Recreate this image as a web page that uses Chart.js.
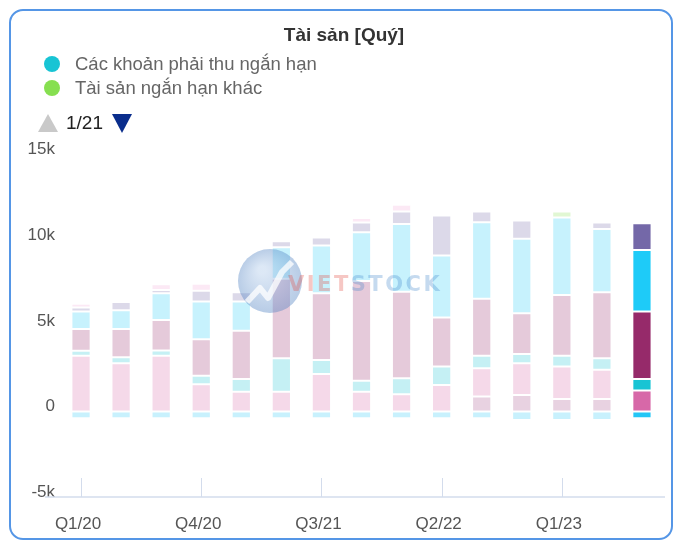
<!DOCTYPE html>
<html>
<head>
<meta charset="utf-8">
<script src="https://cdn.jsdelivr.net/npm/chart.js@4.4.1/dist/chart.umd.min.js"></script>
<style>
  html, body { margin: 0; padding: 0; background: #fff; }
  body { width: 674px; height: 540px; position: relative; overflow: hidden; font-family: "Liberation Sans", Arial, sans-serif; }
  #card { position: absolute; left: 9px; top: 9px; width: 660px; height: 527px; border: 2px solid #5596e6; border-radius: 14px; }
  #c { position: absolute; left: 0; top: 0; }
  #legend { position: absolute; left: 44px; top: 52px; }
  .item { display: flex; align-items: center; height: 24px; color: #666; font-size: 18.5px; white-space: nowrap; }
  .dot { width: 16px; height: 16px; border-radius: 50%; margin-right: 15px; }
  #pager { position: absolute; left: 38px; top: 112px; display: flex; align-items: center; height: 22px; }
  .up { width: 0; height: 0; border-left: 10px solid transparent; border-right: 10px solid transparent; border-bottom: 18px solid #c9c9c9; }
  .down { width: 0; height: 0; border-left: 10px solid transparent; border-right: 10px solid transparent; border-top: 19px solid #0a2d8c; }
  #page { font-size: 19px; color: #222; margin: 0 9px 0 8px; }
</style>
</head>
<body>
<div id="card"></div>
<canvas id="c" width="674" height="540"></canvas>
<div id="legend"></div>
<div id="pager"><div class="up"></div><span id="page">1/21</span><div class="down"></div></div>
<script>
const quarters = ['Q1/20', 'Q2/20', 'Q3/20', 'Q4/20', 'Q1/21', 'Q2/21', 'Q3/21', 'Q4/21',
  'Q1/22', 'Q2/22', 'Q3/22', 'Q4/22', 'Q1/23', 'Q2/23', 'Q3/23'];

// stacked from the bottom up
const cashEq = [0, 0, 0, 0, 0, 0, 0, 0, 0, 0, 870, 960, 730, 730, 0];
const shortInvest = [3250, 2820, 3250, 1590, 1150, 1150, 2190, 1150, 1000, 1550, 1660, 1860, 1890, 1700, 1220];
const receivables = [300, 350, 310, 490, 750, 1960, 820, 650, 940, 1070, 720, 540, 630, 680, 680];
const inventory = [1270, 1650, 1790, 2140, 2820, 4640, 3900, 5830, 5060, 2870, 3330, 2380, 3560, 3860, 3940];
const fixedAssets = [1020, 1100, 1560, 2200, 1700, 1840, 2790, 2850, 3950, 3620, 4480, 4350, 4520, 3700, 3600];
const longInvest = [230, 470, 190, 640, 550, 360, 460, 560, 730, 2340, 620, 1070, 0, 370, 1560];
const otherLong = [230, 0, 340, 400, 0, 0, 0, 260, 400, 0, 0, 0, 0, 0, 0];
const otherShort = [0, 0, 0, 0, 0, 0, 0, 0, 0, 0, 0, 0, 350, 0, 0];
const provisions = [-400, -400, -400, -400, -400, -400, -400, -400, -400, -400, -400, -500, -500, -500, -400];

const yTicks = [-5000, 0, 5000, 10000, 15000];

const series = [
  { label: 'Tiền và tương đương tiền', data: cashEq, color: '#a24a86' },
  { label: 'Đầu tư tài chính ngắn hạn', data: shortInvest, color: '#d768a8' },
  { label: 'Các khoản phải thu ngắn hạn', data: receivables, color: '#18c4d4' },
  { label: 'Hàng tồn kho', data: inventory, color: '#962a6a' },
  { label: 'Tài sản cố định', data: fixedAssets, color: '#1ecbf8' },
  { label: 'Đầu tư tài chính dài hạn', data: longInvest, color: '#7468a8' },
  { label: 'Tài sản dài hạn khác', data: otherLong, color: '#f4a6d8' },
  { label: 'Tài sản ngắn hạn khác', data: otherShort, color: '#86df50' },
  { label: 'Dự phòng', data: provisions, color: '#24c6f6' }
];

const legendPage = ['Các khoản phải thu ngắn hạn', 'Tài sản ngắn hạn khác'];

function fade(hex, a) {
  const r = parseInt(hex.slice(1, 3), 16);
  const g = parseInt(hex.slice(3, 5), 16);
  const b = parseInt(hex.slice(5, 7), 16);
  return `rgba(${r},${g},${b},${a})`;
}

// last quarter is highlighted, the rest are faded out
function barColors(hex) {
  return quarters.map((q, i) => i === quarters.length - 1 ? hex : fade(hex, 0.25));
}

const legendEl = document.getElementById('legend');
legendPage.forEach(name => {
  const s = series.find(x => x.label === name);
  const row = document.createElement('div');
  row.className = 'item';
  row.innerHTML = `<span class="dot" style="background:${s.color}"></span><span>${s.label}</span>`;
  legendEl.appendChild(row);
});

const innerTicks = {
  id: 'innerTicks',
  afterDraw(chart) {
    const x = chart.scales.x;
    const area = chart.chartArea;
    const ctx = chart.ctx;
    ctx.save();
    ctx.strokeStyle = '#d3dcec';
    ctx.lineWidth = 1.5;
    ctx.beginPath();
    ctx.moveTo(area.left - 16, area.bottom);
    ctx.lineTo(area.right + 3, area.bottom);
    ctx.stroke();
    ctx.lineWidth = 1;
    quarters.forEach((q, i) => {
      if (i % 3) return;
      const px = Math.round(x.getPixelForValue(i)) + 0.5;
      ctx.beginPath();
      ctx.moveTo(px, area.bottom - 19);
      ctx.lineTo(px, area.bottom);
      ctx.stroke();
    });
    ctx.restore();
  }
};

const watermark = {
  id: 'watermark',
  afterDatasetsDraw(chart) {
    const ctx = chart.ctx;
    ctx.save();
    ctx.globalAlpha = 0.4;
    const g = ctx.createRadialGradient(262, 270, 4, 270, 281, 33);
    g.addColorStop(0, '#a9c6e8');
    g.addColorStop(1, '#4a7dbf');
    ctx.fillStyle = g;
    ctx.beginPath();
    ctx.arc(270, 281, 32, 0, Math.PI * 2);
    ctx.fill();
    ctx.globalAlpha = 0.75;
    ctx.strokeStyle = '#fff';
    ctx.lineWidth = 6;
    ctx.lineJoin = 'round';
    ctx.beginPath();
    ctx.moveTo(247, 302);
    ctx.lineTo(260, 288);
    ctx.lineTo(268, 298);
    ctx.lineTo(282, 272);
    ctx.lineTo(292, 262);
    ctx.stroke();
    ctx.globalAlpha = 0.3;
    ctx.font = 'bold 21px "DejaVu Sans"';
    ctx.letterSpacing = '2.5px';
    ctx.textBaseline = 'alphabetic';
    ctx.fillStyle = '#e2453d';
    ctx.fillText('VIET', 288, 291);
    const w = ctx.measureText('VIET').width;
    ctx.fillStyle = '#3f83c9';
    ctx.fillText('STOCK', 288 + w, 291);
    ctx.restore();
  }
};

new Chart(document.getElementById('c'), {
  type: 'bar',
  data: {
    labels: quarters,
    datasets: series.map(s => ({
      label: s.label,
      data: s.data,
      backgroundColor: barColors(s.color),
      borderColor: '#ffffff',
      borderWidth: 1,
      borderSkipped: false,
      barPercentage: 0.48,
      categoryPercentage: 1
    }))
  },
  options: {
    responsive: false,
    animation: false,
    devicePixelRatio: 1,
    layout: { padding: { left: 26, right: 12, top: 0, bottom: 0 } },
    plugins: {
      legend: { display: false },
      tooltip: { enabled: false },
      title: {
        display: true,
        text: 'Tài sản [Quý]',
        color: '#333',
        font: { family: '"Liberation Sans", Arial, sans-serif', size: 19, weight: 'bold' },
        padding: { top: 24, bottom: 108 }
      }
    },
    scales: {
      x: {
        stacked: true,
        grid: { display: false, drawTicks: false },
        border: { display: false },
        ticks: {
          autoSkip: false,
          maxRotation: 0,
          padding: 17,
          labelOffset: -3,
          color: '#555',
          font: { family: '"Liberation Sans", Arial, sans-serif', size: 17 },
          callback: (v, i) => i % 3 === 0 ? quarters[i] : ''
        },
        afterFit: s => { s.height = 43; }
      },
      y: {
        stacked: true,
        min: yTicks[0],
        max: yTicks[yTicks.length - 1],
        grid: { display: false, drawTicks: false },
        border: { display: false },
        afterBuildTicks: s => { s.ticks = yTicks.map(v => ({ value: v })); },
        ticks: {
          padding: 6,
          labelOffset: -5,
          color: '#555',
          font: { family: '"Liberation Sans", Arial, sans-serif', size: 17 },
          callback: v => v === 0 ? '0' : (v / 1000) + 'k'
        },
        afterFit: s => { s.width = 35; }
      }
    }
  },
  plugins: [innerTicks, watermark]
});
</script>
</body>
</html>
